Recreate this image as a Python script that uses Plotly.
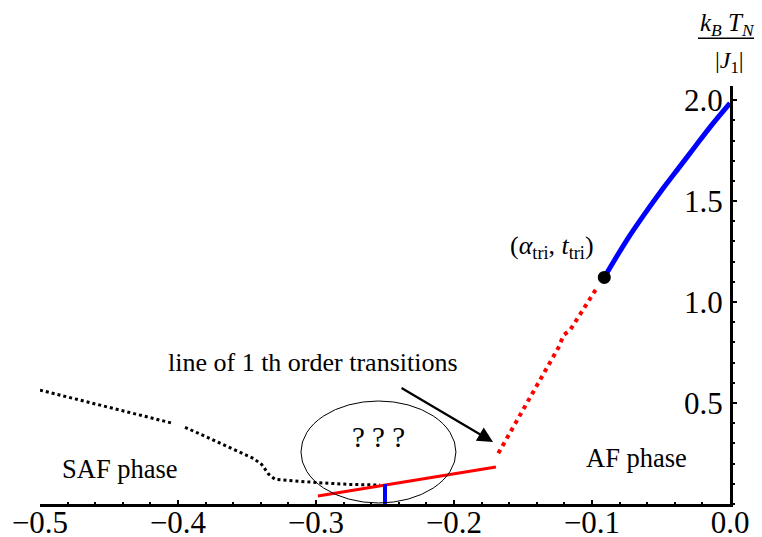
import plotly.graph_objects as go

# SAF boundary (black dotted), split where the dots leave a gap
saf_x = [-0.5, -0.4034, None, -0.3949, -0.3454, -0.3394, -0.3345, -0.3297, -0.3188, -0.2995, -0.2754, -0.2536]
saf_y = [0.564, 0.399, None, 0.380, 0.226, 0.196, 0.149, 0.122, 0.115, 0.106, 0.097, 0.094]

# first-order transition line (red dotted, steep)
first_x = [-0.1679, -0.1237, -0.1208, -0.1159, -0.0962]
first_y = [0.251, 0.782, 0.835, 0.861, 1.073]

# red solid line in the low-temperature region
red_x = [-0.2986, -0.1696]
red_y = [0.040, 0.183]

# blue vertical segment
bv_x = [-0.25, -0.25]
bv_y = [0.0, 0.099]

# second-order line (blue)
blue_x = [-0.0911, -0.0833, -0.0737, -0.0616, -0.0495, -0.0374, -0.0254, -0.0133, 0.0]
blue_y = [1.122, 1.212, 1.318, 1.439, 1.554, 1.662, 1.769, 1.876, 1.985]

# tricritical point
tri_x = [-0.0911]
tri_y = [1.122]

x_ticks = [-0.5, -0.4, -0.3, -0.2, -0.1, 0.0]
x_labels = ["\u22120.5", "\u22120.4", "\u22120.3", "\u22120.2", "\u22120.1", "0.0"]
y_ticks = [0.5, 1.0, 1.5, 2.0]
y_labels = ["0.5", "1.0", "1.5", "2.0"]

FONT = "Liberation Serif, Times New Roman, DejaVu Serif, serif"

fig = go.Figure()
fig.add_trace(go.Scatter(x=saf_x, y=saf_y, mode="lines", connectgaps=False,
                         line=dict(color="black", width=3, dash="3px,3px"), cliponaxis=False))
fig.add_trace(go.Scatter(x=first_x, y=first_y, mode="lines",
                         line=dict(color="#ff0000", width=4, dash="4px,4.5px"), cliponaxis=False))
fig.add_trace(go.Scatter(x=red_x, y=red_y, mode="lines",
                         line=dict(color="#ff0000", width=3), cliponaxis=False))
fig.add_trace(go.Scatter(x=bv_x, y=bv_y, mode="lines",
                         line=dict(color="#0000ff", width=4), cliponaxis=False))
fig.add_trace(go.Scatter(x=blue_x, y=blue_y, mode="lines", line_shape="spline",
                         line=dict(color="#0000ff", width=5, smoothing=1.0), cliponaxis=False))
fig.add_trace(go.Scatter(x=tri_x, y=tri_y, mode="markers",
                         marker=dict(color="black", size=13), cliponaxis=False))

fig.add_shape(type="circle", xref="x", yref="y", x0=-0.3109, x1=-0.1986, y0=0.005, y1=0.51,
              line=dict(color="black", width=1))
# fraction bar of the y-axis title
fig.add_shape(type="line", xref="paper", yref="paper", x0=0.9536, x1=1.0445, y0=1.114, y1=1.114,
              line=dict(color="black", width=1.5))

ann = [
    dict(x=-0.3022, y=0.703, text="line of 1 th order transitions", size=26),
    dict(x=-0.442, y=0.173, text="SAF phase", size=26.5),
    dict(x=-0.0674, y=0.228, text="AF phase", size=26.5),
    dict(x=-0.255, y=0.33, text="? ? ?", size=29),
    dict(x=-0.129, y=1.272, text="(<i>\u03b1</i><sub>tri</sub>, <i>t</i><sub>tri</sub>)", size=26),
    dict(x=0.0109, y=-0.005, text="<i>\u03b1</i>", size=30),
]
for a in ann:
    fig.add_annotation(x=a["x"], y=a["y"], xref="x", yref="y", text=a["text"], showarrow=False,
                       xanchor="center", yanchor="middle", font=dict(family=FONT, size=a["size"], color="black"))

# y tick labels, left of the axis line
for v, t in zip(y_ticks, y_labels):
    fig.add_annotation(x=0.0, y=v, xref="x", yref="y", text=t, showarrow=False,
                       xanchor="right", yanchor="middle", xshift=-5,
                       font=dict(family=FONT, size=31, color="black"))

fig.add_annotation(x=0.9536, y=1.148, xref="paper", yref="paper",
                   text="<i>k</i><sub><i>B</i></sub> <i>T</i><sub><i>N</i></sub>", showarrow=False,
                   xanchor="left", yanchor="middle", font=dict(family=FONT, size=25, color="black"))
fig.add_annotation(x=0.9754, y=1.057, xref="paper", yref="paper",
                   text="|<i>J</i><sub>1</sub>|", showarrow=False,
                   xanchor="left", yanchor="middle", font=dict(family=FONT, size=24, color="black"))

# arrow
fig.add_annotation(x=-0.1717, y=0.307, ax=-0.2391, ay=0.579, xref="x", yref="y", axref="x", ayref="y",
                   text="", showarrow=True, arrowhead=2, arrowsize=1.4, arrowwidth=2.2, arrowcolor="black")

# the page body adds an 8px offset, so the figure's margins are shifted to compensate
fig.update_layout(
    width=762, height=537,
    margin=dict(l=32, r=40, t=78, b=41),
    plot_bgcolor="white", paper_bgcolor="white",
    showlegend=False,
    font=dict(family=FONT, color="black"),
)
fig.update_xaxes(range=[-0.5, 0.0], showgrid=False, zeroline=False, automargin=False,
                 showline=True, linecolor="black", linewidth=3,
                 tickvals=x_ticks, ticktext=x_labels, ticks="inside", ticklen=4, tickwidth=2,
                 ticklabelstandoff=-11,
                 tickcolor="black", tickfont=dict(family=FONT, size=31, color="black"),
                 minor=dict(dtick=0.02, ticks="inside", ticklen=2, tickwidth=2, tickcolor="black"))
fig.update_yaxes(range=[0, 2.07], side="right", showgrid=False, zeroline=False, automargin=False,
                 showline=True, linecolor="black", linewidth=3,
                 tickvals=y_ticks, showticklabels=False, ticks="outside", ticklen=4, tickwidth=2,
                 tickcolor="black",
                 minor=dict(dtick=0.1, ticks="outside", ticklen=2, tickwidth=2, tickcolor="black"))

fig.write_html("out.html")
